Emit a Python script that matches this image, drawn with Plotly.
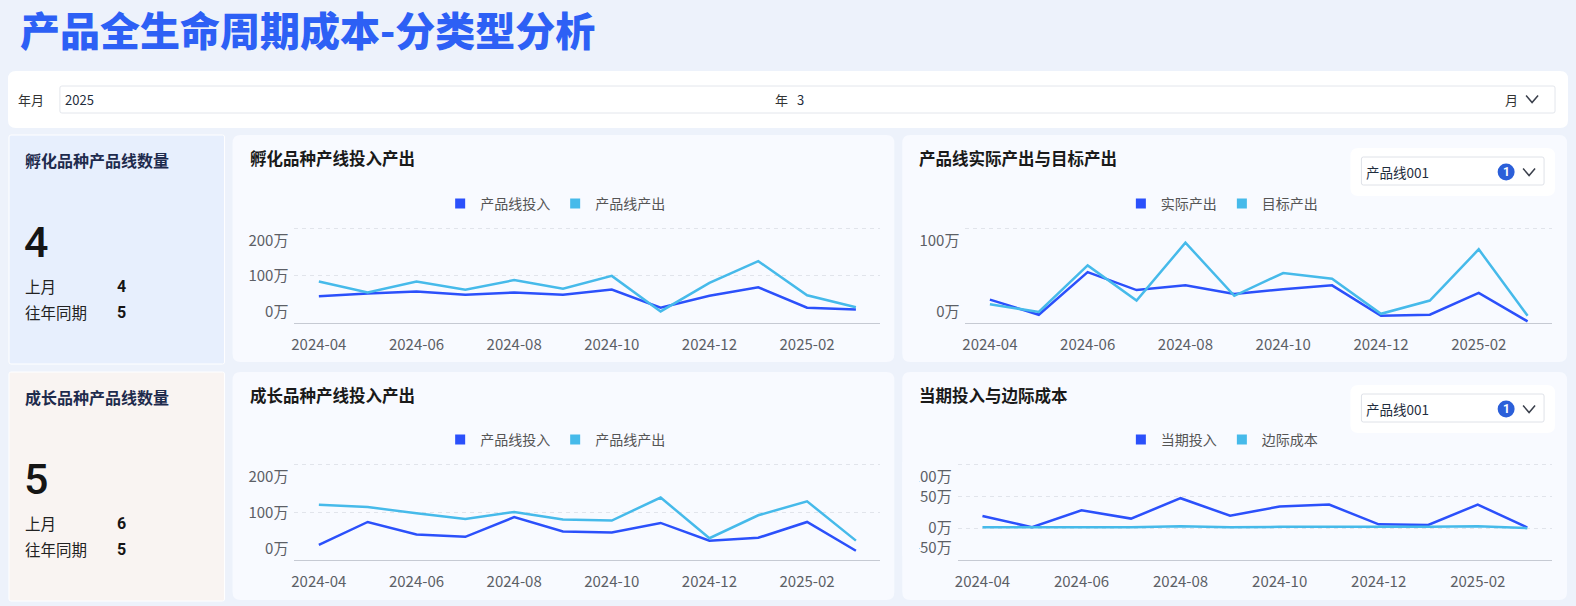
import plotly.graph_objects as go

W, H = 1576, 606
CJK = "Noto Sans CJK SC, Noto Sans, sans-serif"
NUM = "Roboto, Noto Sans, sans-serif"

TITLE = "产品全生命周期成本-分类型分析"

MONTHS = ["2024-04", "2024-05", "2024-06", "2024-07", "2024-08", "2024-09",
          "2024-10", "2024-11", "2024-12", "2025-01", "2025-02", "2025-03"]
MONTH_TICKS = MONTHS[::2]

# 孵化品种产线投入产出 (万)
HATCH_INPUT = [57, 63, 67, 60, 65, 60, 71, 33, 58, 76, 33, 29]
HATCH_OUTPUT = [88, 65, 88, 71, 91, 73, 100, 25, 85, 131, 59, 34]

# 产品线001 实际产出 / 目标产出 (万)
ACTUAL_OUT = [25, 9, 54, 35, 40, 31, 36, 40, 8, 9, 32, 2]
TARGET_OUT = [20, 12, 61, 24, 85, 29, 53, 47, 10, 24, 78, 8]

# 成长品种产线投入产出 (万)
GROWTH_INPUT = [32, 80, 54, 49, 90, 60, 58, 78, 41, 47, 80, 20]
GROWTH_OUTPUT = [116, 111, 98, 86, 101, 85, 83, 131, 46, 94, 123, 41]

# 产品线001 当期投入 / 边际成本 (万)
PERIOD_INPUT = [19, 1.5, 28, 15, 47, 19.5, 34, 37, 6, 5, 37, 1]
MARGINAL_COST = [1.5, 1.5, 2, 1.5, 3, 1.5, 2, 2, 1.5, 2, 3, 0]

# KPI cards: (title, current, last month, same period last year)
HATCH_CARD = ("孵化品种产品线数量", 4, 4, 5)
GROWTH_CARD = ("成长品种产品线数量", 5, 6, 5)

YEAR, MONTH = "2025", "3"
LINE_OPTION = "产品线001"

DARK = "#2b50fb"
LIGHT = "#46baea"
GRID = "#e1e4eb"
AXIS_LINE = "#c6cad3"
TICK = dict(family=CJK, size=15, color="#5c5f66")
PANEL_BG = "#f8faff"
EDGE_PUSH = 12  # px the outer y labels sit inside the plot edges
TEXT_NUDGE = 5  # annotations draw a few px right of their anchor

PANELS = [
    dict(title="孵化品种产线投入产出", names=("产品线投入", "产品线产出"),
         series=(HATCH_INPUT, HATCH_OUTPUT), yrange=(0, 200), yticks=[0, 100, 200],
         box=(230, 135, 893, 362), plot=(292, 227.3, 879, 323.3),
         legend=(458, 204), select=False),
    dict(title="产品线实际产出与目标产出", names=("实际产出", "目标产出"),
         series=(ACTUAL_OUT, TARGET_OUT), yrange=(0, 100), yticks=[0, 100],
         box=(901, 135, 1567, 362), plot=(964.3, 227.3, 1552, 323.3),
         legend=(1140, 204), select=True),
    dict(title="成长品种产线投入产出", names=("产品线投入", "产品线产出"),
         series=(GROWTH_INPUT, GROWTH_OUTPUT), yrange=(0, 200), yticks=[0, 100, 200],
         box=(230, 372, 893, 600), plot=(292, 463.3, 879, 560.3),
         legend=(458, 440), select=False),
    dict(title="当期投入与边际成本", names=("当期投入", "边际成本"),
         series=(PERIOD_INPUT, MARGINAL_COST), yrange=(-50, 100), yticks=[-50, 0, 50, 100],
         box=(901, 372, 1567, 600), plot=(956.5, 463.3, 1552, 560),
         legend=(1140, 440), select=True),
]


def px(x):
    return x / W


def py(y):
    return 1 - y / H


def rrect(x0, y0, x1, y1, r, fill, line=None, layer="below"):
    rx, ry = r / W, r / H
    a, b = px(x0), px(x1)
    bot, top = py(y1), py(y0)
    path = (f"M {a + rx},{bot} L {b - rx},{bot} Q {b},{bot} {b},{bot + ry} "
            f"L {b},{top - ry} Q {b},{top} {b - rx},{top} L {a + rx},{top} "
            f"Q {a},{top} {a},{top - ry} L {a},{bot + ry} Q {a},{bot} {a + rx},{bot} Z")
    return dict(type="path", xref="paper", yref="paper", path=path, fillcolor=fill,
                line=dict(color=line or fill, width=1 if line else 0), layer=layer)


def chevron(cx, cy, w=6, h=3.5):
    path = f"M {px(cx - w)},{py(cy - h)} L {px(cx)},{py(cy + h)} L {px(cx + w)},{py(cy - h)}"
    return dict(type="path", xref="paper", yref="paper", path=path,
                fillcolor="rgba(0,0,0,0)", line=dict(color="#3a3f4b", width=1.5), layer="above")


def label(x, y, s, size, color, weight=400, family=CJK, xanchor="left"):
    if xanchor == "left":
        x -= TEXT_NUDGE
    return dict(x=px(x), y=py(y), xref="paper", yref="paper", text=s, showarrow=False,
                xanchor=xanchor, yanchor="middle",
                font=dict(size=size, color=color, family=family, weight=weight))


def label_positions(ticks, lo, hi, plot_h):
    step = EDGE_PUSH * (hi - lo) / plot_h
    pos = [float(t) for t in ticks]
    if pos[0] == lo:
        pos[0] += step
    if pos[-1] == hi:
        pos[-1] -= step
    return pos


fig = go.Figure()
shapes = []
annotations = []

# page title and month filter
annotations.append(label(20, 29, TITLE, 40, "#2d60f5", weight=900))
shapes.append(rrect(5, 71, 1568, 128, 8, "#ffffff"))
shapes.append(rrect(57, 86, 1555, 113, 2, "#ffffff", line="#e3e6ec"))
shapes.append(chevron(1532, 99))
annotations += [
    label(18, 99, "年月", 13, "#333333"),
    label(65, 99, YEAR, 13, "#1f2d3d"),
    label(780, 99, "年", 13, "#333333", xanchor="center"),
    label(799, 99, MONTH, 13, "#1f2d3d"),
    label(1511, 99, "月", 13, "#333333", xanchor="center"),
]

# KPI cards
for (title, cur, last_m, last_y), top, bg in ((HATCH_CARD, 135, "#e7effd"),
                                               (GROWTH_CARD, 372, "#f9f4f2")):
    shapes.append(rrect(6, top, 222, top + 229, 2, bg, line="#ffffff"))
    annotations += [
        label(25, top + 25, title, 16, "#1e2b4d", weight=700),
        label(24, top + 107, str(cur), 43, "#151515", weight=500, family=NUM),
        label(25, top + 151, "上月", 15.5, "#222222"),
        label(117, top + 151, str(last_m), 16, "#151515", weight=700, family=NUM),
        label(25, top + 177, "往年同期", 15.5, "#222222"),
        label(117, top + 177, str(last_y), 16, "#151515", weight=700, family=NUM),
    ]

# chart panels
for i, p in enumerate(PANELS):
    n = i + 1
    sfx = "" if n == 1 else str(n)
    xa, ya, la = f"x{sfx}", f"y{sfx}", f"y{n + 4}"
    bx0, by0, bx1, by1 = p["box"]
    x0, y0, x1, y1 = p["plot"]
    lo, hi = p["yrange"]
    top = hi + (hi - lo) * 0.012  # keep the top gridline inside the plot
    lx, ly = p["legend"]
    legend_id = "legend" if n == 1 else f"legend{n}"

    shapes.append(rrect(bx0, by0, bx1, by1, 8, PANEL_BG))
    annotations.append(label(bx0 + 20, by0 + 23, p["title"], 16.5, "#1a1a1a", weight=700))

    if p["select"]:
        shapes.append(rrect(1350, by0 + 13, 1555, by0 + 61, 8, "#ffffff"))
        shapes.append(rrect(1361, by0 + 22, 1544, by0 + 50, 2, "#ffffff", line="#dfe2e8"))
        shapes.append(dict(type="circle", xref="paper", yref="paper",
                           x0=px(1497.5), x1=px(1514.5), y0=py(by0 + 45.5), y1=py(by0 + 28.5),
                           fillcolor="#2b5fd9", line=dict(width=0), layer="above"))
        shapes.append(chevron(1529, by0 + 37))
        annotations += [
            label(1369, by0 + 37, LINE_OPTION, 13.5, "#1f2d3d"),
            label(1506, by0 + 37, "1", 12, "#ffffff", weight=700, family=NUM, xanchor="center"),
        ]

    fig.update_layout(**{
        f"xaxis{sfx}": dict(domain=[px(x0), px(x1)], anchor=ya, type="category",
                            categoryorder="array", categoryarray=MONTHS, range=[-0.5, 11.5],
                            tickvals=MONTH_TICKS, ticks="", showgrid=False, zeroline=False,
                            showline=True, linecolor=AXIS_LINE, linewidth=1,
                            tickfont=TICK, ticklabelstandoff=8, fixedrange=True),
        f"yaxis{sfx}": dict(domain=[py(y1), py(y0)], anchor=xa, range=[lo, top],
                            tickvals=p["yticks"], showticklabels=False, ticks="",
                            showgrid=True, gridcolor=GRID, griddash="4px,4px", gridwidth=1,
                            zeroline=False, showline=False, fixedrange=True),
        f"yaxis{n + 4}": dict(overlaying=ya, anchor=xa, side="left", range=[lo, top],
                              tickvals=label_positions(p["yticks"], lo, hi, y1 - y0),
                              ticktext=[f"{v}万" for v in p["yticks"]],
                              ticks="", showgrid=False, zeroline=False, showline=False,
                              tickfont=TICK, ticklabelstandoff=5, fixedrange=True),
        legend_id: dict(orientation="h", x=px(lx - 20), xanchor="left", y=py(ly),
                        yanchor="middle", bgcolor="rgba(0,0,0,0)", borderwidth=0,
                        font=dict(family=CJK, size=14, color="#555555")),
    })

    for j, (name, values, color) in enumerate(zip(p["names"], p["series"], (DARK, LIGHT))):
        group = f"p{n}s{j}"
        fig.add_trace(go.Scatter(
            x=MONTHS, y=values, mode="lines", name=name, legendgroup=group,
            line=dict(color=color, width=2.5), xaxis=xa, yaxis=ya, showlegend=False,
            hovertemplate="%{x}<br>" + name + ": %{y}万<extra></extra>"))
        # legend entry (square swatch); it also carries the label axis
        fig.add_trace(go.Scatter(
            x=[None], y=[None], mode="markers", name=name, legendgroup=group,
            marker=dict(symbol="square", size=10, color=color), xaxis=xa, yaxis=la,
            legend=legend_id, hoverinfo="skip"))

# the last panel's container clips the first digit of its top label
shapes.append(dict(type="rect", xref="paper", yref="paper", x0=px(901), x1=px(918),
                   y0=py(556), y1=py(462), fillcolor=PANEL_BG, line=dict(width=0), layer="above"))

fig.update_layout(
    width=W, height=H, margin=dict(l=0, r=0, t=0, b=0),
    paper_bgcolor="#edf2fb", plot_bgcolor="rgba(0,0,0,0)",
    font=dict(family=CJK), shapes=shapes, annotations=annotations,
    showlegend=True, hovermode="closest",
)

fig.write_html("out.html", config={"displayModeBar": False},
               post_script="document.body.style.margin='0';")
